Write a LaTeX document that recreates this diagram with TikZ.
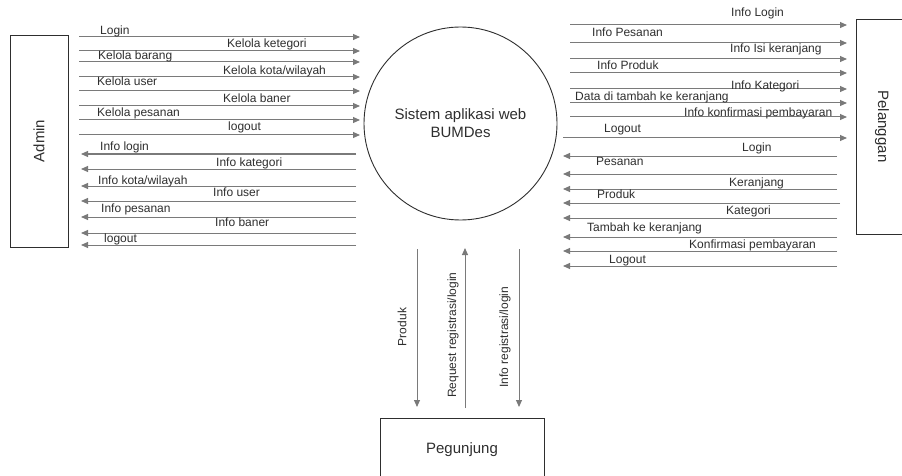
\documentclass[tikz,border=0pt]{standalone}
\usepackage{fontspec}
\setmainfont{Liberation Sans}
\usetikzlibrary{arrows.meta}
\definecolor{flowgray}{HTML}{7A7A7A}
\definecolor{ink}{HTML}{2E2E2E}
\begin{document}
\begin{tikzpicture}[x=1pt,y=-1pt,
  flow/.style={draw=flowgray, line width=1pt, -{Triangle[length=7pt,width=6pt]}},
  lbl/.style={anchor=base west, inner sep=0pt, font=\fontsize{12}{14}\selectfont, text=ink},
  vlbl/.style={anchor=center, inner sep=0pt, rotate=90, font=\fontsize{12}{14}\selectfont, text=ink},
  entity/.style={draw=ink, line width=0.9pt, font=\fontsize{15}{18}\selectfont, text=ink, inner sep=0pt}]
\useasboundingbox (0,0) rectangle (902,476);

% entities
\node[entity, rotate=90, minimum width=212pt, minimum height=58pt] (admin) at (39,141) {Admin};
\node[entity, rotate=-90, minimum width=215pt, minimum height=52pt] (pel) at (882,126.5) {Pelanggan};
\node[entity, minimum width=164pt, minimum height=64pt] (peg) at (462,450) {Pegunjung};
\node[entity, circle, minimum size=193pt, align=center] (sys) at (460.5,123.5) {Sistem aplikasi web\\BUMDes};

% Admin -> system
\foreach \i/\y in {1/37,2/51,3/62,4/77,5/91,6/106,7/120,8/135}{
  \coordinate (as\i) at (79,\y); \coordinate (ae\i) at (360,\y);
  \draw[flow] (as\i) -- (ae\i);}
\node[lbl] (a1) at (100,35) {Login};
\node[lbl] (a2) at (227,48) {Kelola ketegori};
\node[lbl] (a3) at (98,60) {Kelola barang};
\node[lbl] (a4) at (223,75) {Kelola kota/wilayah};
\node[lbl] (a5) at (97,86) {Kelola user};
\node[lbl] (a6) at (223,103) {Kelola baner};
\node[lbl] (a7) at (97,117) {Kelola pesanan};
\node[lbl] (a8) at (228,131) {logout};

% system -> Admin
\foreach \i/\y in {1/154,2/169,3/186,4/201,5/217,6/233,7/245}{
  \coordinate (bs\i) at (356,\y); \coordinate (be\i) at (81,\y);
  \draw[flow] (bs\i) -- (be\i);}
\node[lbl] (b1) at (100,150) {Info login};
\node[lbl] (b2) at (216,166) {Info kategori};
\node[lbl] (b3) at (98,184) {Info kota/wilayah};
\node[lbl] (b4) at (213,196) {Info user};
\node[lbl] (b5) at (101,212) {Info pesanan};
\node[lbl] (b6) at (215,226) {Info baner};
\node[lbl] (b7) at (104,242) {logout};

% system -> Pelanggan
\foreach \i/\y/\x in {1/25/570,2/43/570,3/59/570,4/73/570,5/89/570,6/103/570,7/117/570,8/138/563}{
  \coordinate (cs\i) at (\x,\y); \coordinate (ce\i) at (847,\y);
  \draw[flow] (cs\i) -- (ce\i);}
\node[lbl] (c1) at (731,17) {Info Login};
\node[lbl] (c2) at (592,37) {Info Pesanan};
\node[lbl] (c3) at (730,53) {Info Isi keranjang};
\node[lbl] (c4) at (597,70) {Info Produk};
\node[lbl] (c5) at (731,90) {Info Kategori};
\node[lbl] (c6) at (575,101) {Data di tambah ke keranjang};
\node[lbl] (c7) at (684,117) {Info konfirmasi pembayaran};
\node[lbl] (c8) at (604,132) {Logout};

% Pelanggan -> system
\foreach \i/\y/\x in {1/156/837,2/174/837,3/189/837,4/203/840,5/218/837,6/237/837,7/251/837,8/266/837}{
  \coordinate (ds\i) at (\x,\y); \coordinate (de\i) at (563,\y);
  \draw[flow] (ds\i) -- (de\i);}
\node[lbl] (d1) at (742,151) {Login};
\node[lbl] (d2) at (596,165) {Pesanan};
\node[lbl] (d3) at (729,186) {Keranjang};
\node[lbl] (d4) at (597,198) {Produk};
\node[lbl] (d5) at (726,214) {Kategori};
\node[lbl] (d6) at (587,231) {Tambah ke keranjang};
\node[lbl] (d7) at (689,248) {Konfirmasi pembayaran};
\node[lbl] (d8) at (609,263) {Logout};

% Pegunjung flows
\coordinate (p1s) at (417,249); \coordinate (p1e) at (417,407);
\coordinate (p2s) at (465,408); \coordinate (p2e) at (465,248);
\coordinate (p3s) at (519,249); \coordinate (p3e) at (519,407);
\draw[flow] (p1s) -- (p1e);
\draw[flow] (p2s) -- (p2e);
\draw[flow] (p3s) -- (p3e);
\node[vlbl] (e1) at (402,327) {Produk};
\node[vlbl] (e2) at (453,335) {Request registrasi/login};
\node[vlbl] (e3) at (505,337) {Info registrasi/login};
\end{tikzpicture}
\end{document}
